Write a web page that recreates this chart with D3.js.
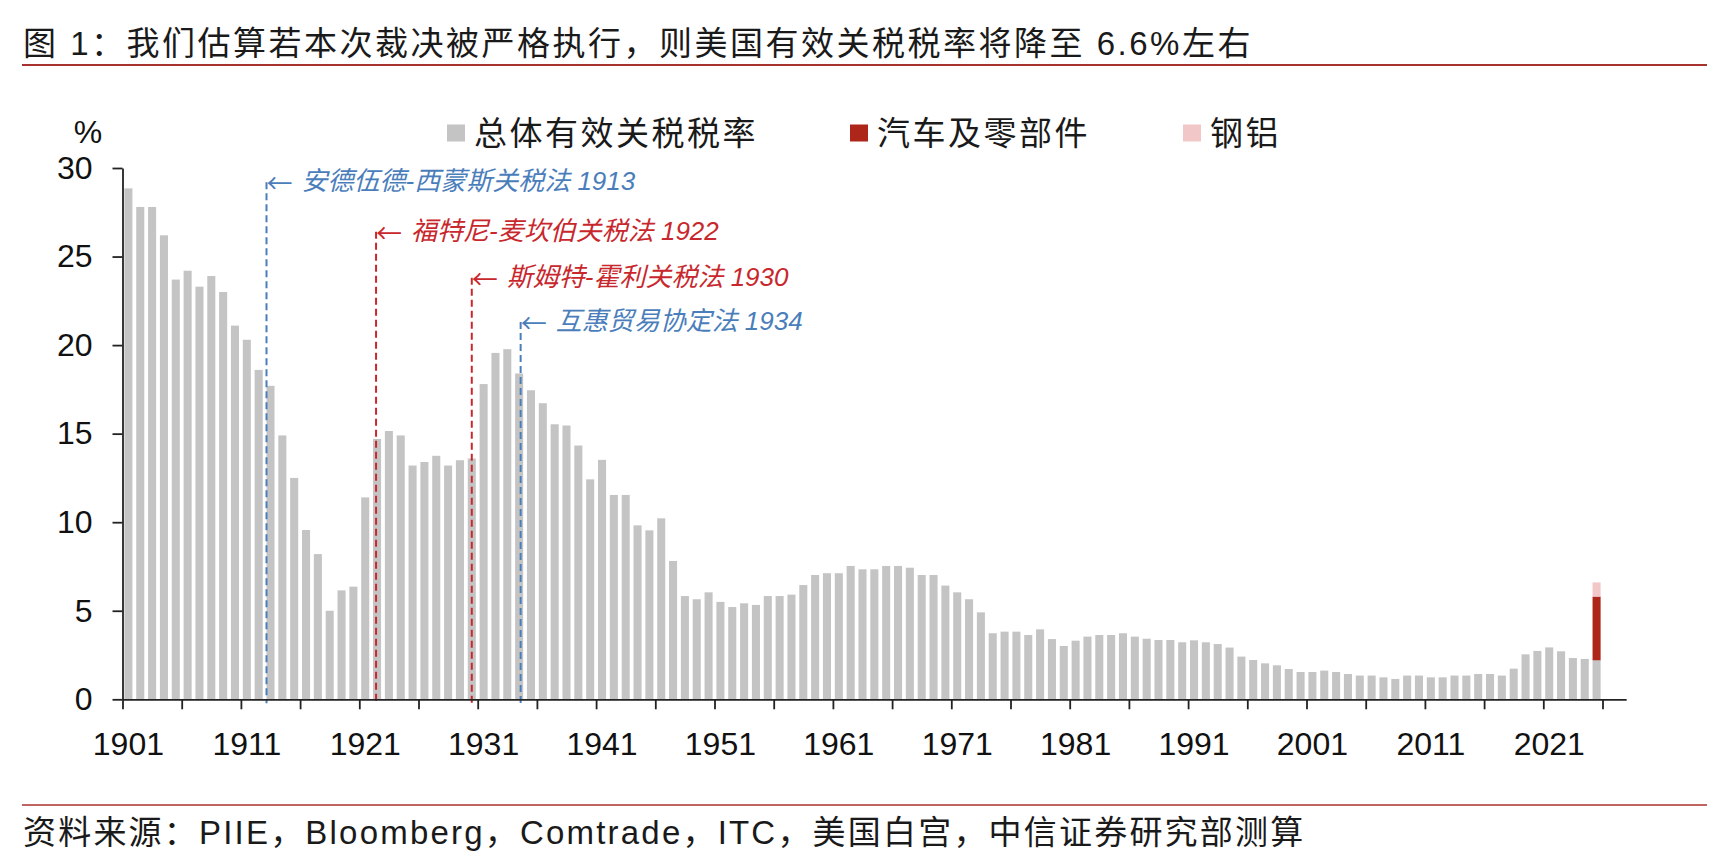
<!DOCTYPE html>
<html>
<head>
<meta charset="utf-8">
<script src="https://cdn.jsdelivr.net/npm/d3@7"></script>
<style>
  body { margin: 0; background: #fff; }
  svg { display: block; }
</style>
</head>
<body>
<svg id="chart"></svg>
<script>
// ---- data ----
var firstYear = 1901;
var lastYear = 2025;

// overall effective tariff rate, %, 1901..2025
var totalRate = [
  28.85, 27.8, 27.8, 26.2, 23.7, 24.2, 23.3, 23.9, 23.0, 21.1,
  20.3, 18.6, 17.7, 14.9, 12.5, 9.56, 8.2, 5.0, 6.15, 6.36,
  11.4, 14.7, 15.15, 14.9, 13.2, 13.4, 13.75, 13.2, 13.5, 13.6,
  17.8, 19.56, 19.77, 18.4, 17.45, 16.72, 15.53, 15.46, 14.33, 12.42,
  13.52, 11.54, 11.54, 9.82, 9.54, 10.22, 7.81, 5.83, 5.65, 6.04,
  5.5, 5.21, 5.42, 5.33, 5.83, 5.83, 5.91, 6.45, 7.02, 7.12,
  7.12, 7.53, 7.34, 7.34, 7.53, 7.53, 7.43, 7.02, 7.02, 6.42,
  6.04, 5.65, 4.91, 3.73, 3.82, 3.82, 3.63, 3.95, 3.4, 3.01,
  3.31, 3.54, 3.63, 3.63, 3.73, 3.54, 3.42, 3.35, 3.35, 3.22,
  3.33, 3.22, 3.12, 2.92, 2.41, 2.22, 2.03, 1.92, 1.71, 1.54,
  1.54, 1.62, 1.54, 1.43, 1.34, 1.34, 1.24, 1.15, 1.34, 1.34,
  1.24, 1.24, 1.34, 1.34, 1.43, 1.43, 1.34, 1.73, 2.54, 2.73,
  2.93, 2.71, 2.33, 2.28, 2.2
];

// extra layers stacked on the last bar
var extraYears = [2025];
var autoRate = [3.6];
var steelRate = [0.8];

var seriesNames = ["总体有效关税税率", "汽车及零部件", "钢铝"];

var yTicks = [0, 5, 10, 15, 20, 25, 30];
var xLabels = [1901, 1911, 1921, 1931, 1941, 1951, 1961, 1971, 1981, 1991, 2001, 2011, 2021];

// tariff laws marked on the chart
var lawYears = [1913, 1922, 1930, 1934];
var lawNames = ["安德伍德-西蒙斯关税法 1913", "福特尼-麦坎伯关税法 1922", "斯姆特-霍利关税法 1930", "互惠贸易协定法 1934"];
var lawLevels = [29.2, 26.4, 23.8, 21.3];

// ---- styles ----
var colors = ["#c4c4c4", "#ae2519", "#f2c7c7"];
var lawColors = ["#4a7ebb", "#c8282d", "#c8282d", "#4a7ebb"];
var lawShift = [-4, -1, 0, 1.5];   // small nudges so the dashes sit where the original has them
var textFont = "'Liberation Sans', 'Noto Sans CJK SC', sans-serif";

// ---- layout ----
var svgWidth = 1716;
var svgHeight = 861;
var x0 = 122.5;
var step = 11.84;
var yBottom = 699.3;
var yTop = 168;

var years = d3.range(firstYear, lastYear + 1);

var svg = d3.select("#chart")
  .attr("width", svgWidth)
  .attr("height", svgHeight)
  .style("font-family", textFont);

// scales
var x = d3.scaleBand()
  .domain(years)
  .range([x0, x0 + years.length * step])
  .paddingInner(0.32)
  .paddingOuter(0.16);

var y = d3.scaleLinear()
  .domain([0, 30])
  .range([yBottom, yTop]);

// axis line runs two empty slots past the last bar
var xEdge = d3.scaleLinear()
  .domain([0, years.length + 2])
  .range([x0, x0 + (years.length + 2) * step]);

// title + rules
svg.append("text")
  .attr("x", 23)
  .attr("y", 43.5)
  .attr("dominant-baseline", "central")
  .style("font-size", "33px")
  .style("letter-spacing", "2.5px")
  .attr("fill", "#1a1a1a")
  .text("图 1：我们估算若本次裁决被严格执行，则美国有效关税税率将降至 6.6%左右");

svg.append("line")
  .attr("x1", 22).attr("x2", 1707)
  .attr("y1", 65).attr("y2", 65)
  .attr("stroke", "#a8322d")
  .attr("stroke-width", 2);

svg.append("line")
  .attr("x1", 22).attr("x2", 1707)
  .attr("y1", 805).attr("y2", 805)
  .attr("stroke", "#a8322d")
  .attr("stroke-width", 1.6);

svg.append("text")
  .attr("x", 23)
  .attr("y", 832)
  .attr("dominant-baseline", "central")
  .style("font-size", "33px")
  .style("letter-spacing", "2.2px")
  .attr("fill", "#1a1a1a")
  .text("资料来源：PIIE，Bloomberg，Comtrade，ITC，美国白宫，中信证券研究部测算");

// legend
var legendX = [447, 850, 1183];
var legend = svg.selectAll(".legend")
  .data(seriesNames)
  .enter()
  .append("g")
  .attr("class", "legend")
  .attr("transform", function (d, i) { return "translate(" + legendX[i] + ",133)"; });

legend.append("rect")
  .attr("x", 0)
  .attr("y", -8.5)
  .attr("width", 18)
  .attr("height", 17)
  .attr("fill", function (d, i) { return colors[i]; });

legend.append("text")
  .attr("x", 27)
  .attr("y", 0)
  .attr("dominant-baseline", "central")
  .style("font-size", "33px")
  .style("letter-spacing", "2.5px")
  .attr("fill", "#1a1a1a")
  .text(function (d) { return d; });

// unit
svg.append("text")
  .attr("x", 88)
  .attr("y", 143)
  .attr("text-anchor", "middle")
  .style("font-size", "32px")
  .attr("fill", "#111")
  .text("%");

// stacked bars
var table = years.map(function (yr, i) {
  var j = extraYears.indexOf(yr);
  return {
    year: yr,
    total: totalRate[i],
    auto: j >= 0 ? autoRate[j] : 0,
    steel: j >= 0 ? steelRate[j] : 0
  };
});

var layers = d3.stack().keys(["total", "auto", "steel"])(table);

svg.selectAll(".layer")
  .data(layers)
  .enter()
  .append("g")
  .attr("class", "layer")
  .attr("fill", function (d, i) { return colors[i]; })
  .selectAll("rect")
  .data(function (d) { return d.filter(function (p) { return p[1] - p[0] > 0; }); })
  .enter()
  .append("rect")
  .attr("x", function (d) { return x(d.data.year); })
  .attr("y", function (d) { return y(d[1]); })
  .attr("width", x.bandwidth())
  .attr("height", function (d) { return y(d[0]) - y(d[1]); });

// law markers: dashed line + arrow label
function lawX(d, i) {
  return x(d) + x.bandwidth() / 2 + lawShift[i];
}

var laws = svg.selectAll(".law")
  .data(lawYears)
  .enter()
  .append("g")
  .attr("class", "law");

laws.append("line")
  .attr("x1", lawX)
  .attr("x2", lawX)
  .attr("y1", function (d, i) { return y(lawLevels[i]); })
  .attr("y2", yBottom + 4)
  .attr("stroke", function (d, i) { return lawColors[i]; })
  .attr("stroke-width", 2)
  .attr("stroke-dasharray", "7,4");

var lawText = laws.append("text")
  .attr("x", lawX)
  .attr("y", function (d, i) { return y(lawLevels[i]) - 1; })
  .attr("dominant-baseline", "central")
  .style("font-size", "26px")
  .style("font-style", "italic")
  .attr("fill", function (d, i) { return lawColors[i]; });

lawText.append("tspan")
  .style("font-family", "'Noto Sans CJK SC', sans-serif")
  .style("font-style", "normal")
  .text("←");

lawText.append("tspan")
  .attr("dx", 9)
  .text(function (d, i) { return lawNames[i]; });

// y axis
var yAxis = svg.append("g")
  .attr("class", "axis")
  .attr("transform", "translate(" + x0 + ",0)")
  .call(d3.axisLeft(y).tickValues(yTicks).tickSize(10).tickSizeOuter(0).tickPadding(20));

// x axis: tick marks between categories every 5 years
var xAxis = svg.append("g")
  .attr("class", "axis")
  .attr("transform", "translate(0," + yBottom + ")")
  .call(d3.axisBottom(xEdge)
    .tickValues(d3.range(0, years.length + 1, 5))
    .tickSize(10)
    .tickSizeOuter(0)
    .tickFormat(""));

// x labels centered on every 10th bar
var xLabelAxis = svg.append("g")
  .attr("class", "axis")
  .attr("transform", "translate(0," + yBottom + ")")
  .call(d3.axisBottom(x).tickValues(xLabels).tickSize(0).tickPadding(33));
xLabelAxis.select(".domain").remove();

svg.selectAll(".axis path, .axis line")
  .attr("stroke", "#222")
  .attr("stroke-width", 1.8);

svg.selectAll(".axis text")
  .style("font-family", textFont)
  .style("font-size", "32px")
  .attr("fill", "#111");
</script>
</body>
</html>
